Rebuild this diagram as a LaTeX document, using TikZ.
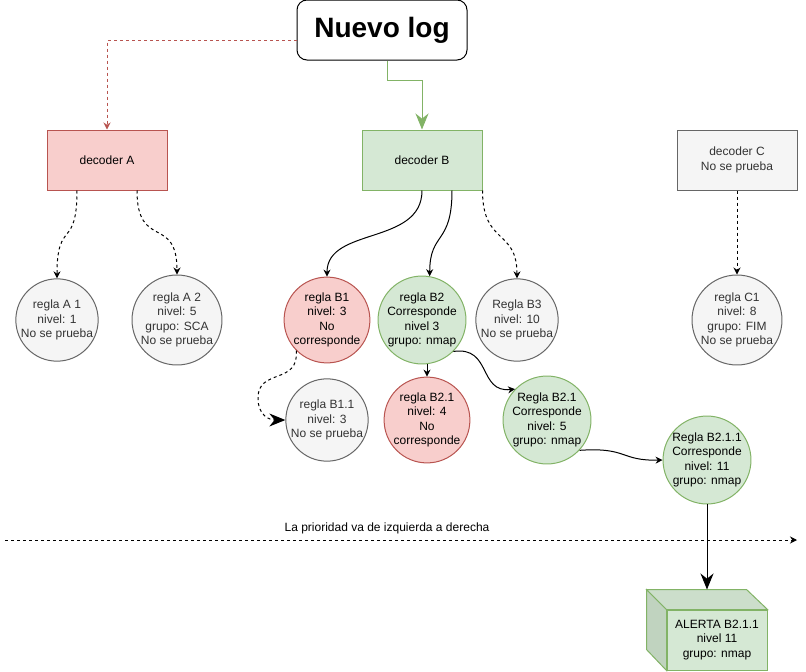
\documentclass[tikz,border=0pt]{standalone}
\usepackage{xcolor}
\usepackage{fontspec}
\setmainfont{Liberation Sans}
\usepackage{tikz}
\usetikzlibrary{positioning,arrows.meta,calc}

\definecolor{redfill}{HTML}{F8CECC}
\definecolor{redline}{HTML}{B85450}
\definecolor{greenfill}{HTML}{D5E8D4}
\definecolor{greenline}{HTML}{82B366}
\definecolor{grayfill}{HTML}{F5F5F5}
\definecolor{grayline}{HTML}{666666}
\definecolor{graytext}{HTML}{333333}
\definecolor{cubetop}{HTML}{CCDECB}
\definecolor{cubeside}{HTML}{C0D3BF}

\begin{document}
\begin{tikzpicture}[x=1pt,y=-1pt,line width=1pt,
  font=\fontsize{12}{14.4}\selectfont,
  decoder/.style={rectangle,minimum width=120pt,minimum height=60pt,inner sep=0pt,align=center},
  regla/.style={circle,minimum size=80pt,inner sep=0pt,align=center},
  rojo/.style={fill=redfill,draw=redline},
  verde/.style={fill=greenfill,draw=greenline},
  gris/.style={fill=grayfill,draw=grayline,text=graytext},
  punteado/.style={dash pattern=on 3pt off 3pt},
  tip/.style={-{Stealth[length=7pt,width=7pt]}},
  bigtip/.style={-{Stealth[length=16pt,width=13pt]}}]
\useasboundingbox (0,0) rectangle (806,672);

% Log y decoders
\node[draw,rounded corners=10pt,minimum width=170pt,minimum height=60pt,
  font=\fontsize{28}{34}\selectfont\bfseries] (log) at (382,30) {Nuevo log};
\node[decoder,rojo] (decA) at (107,160) {decoder A};
\node[decoder,verde] (decB) at (422,160) {decoder B};
\node[decoder,gris] (decC) at (737,160) {decoder C\\No se prueba};

\draw[tip,redline,punteado] ([yshift=-10pt]log.west) -| (decA.north);
\draw[bigtip,greenline] ([xshift=5pt]log.south) -- ++(0,20) -| (decB.north);

% Reglas
\node[regla,gris] (a1) at (57,320) {regla A 1\\nivel: 1\\No se prueba};
\node[regla,gris] (a2) at (177,320) {regla A 2\\nivel: 5\\grupo: SCA\\No se prueba};
\node[regla,rojo] (b1) at (327,320) {regla B1\\nivel: 3\\No\\corresponde};
\node[regla,verde] (b2) at (422,320) {regla B2\\Corresponde\\nivel 3\\grupo: nmap};
\node[regla,gris] (b3) at (517,320) {Regla B3\\nivel: 10\\No se prueba};
\node[regla,gris] (c1) at (737,320) {regla C1\\nivel: 8\\grupo: FIM\\No se prueba};
\node[regla,gris] (b11) at (327,420) {regla B1.1\\nivel: 3\\No se prueba};
\node[regla,rojo] (b21r) at (427,420) {regla B2.1\\nivel: 4\\No\\corresponde};
\node[regla,verde] (b21v) at (547,420) {Regla B2.1\\Corresponde\\nivel: 5\\grupo: nmap};
\node[regla,verde] (b211) at (707,460) {Regla B2.1.1\\Corresponde\\nivel: 11\\grupo: nmap};

\draw[tip,punteado] ([xshift=-30pt]decA.south) .. controls +(0,60) and +(0,-60) .. (a1.north);
\draw[tip,punteado] ([xshift=30pt]decA.south) .. controls +(0,60) and +(0,-60) .. (a2.north);
\draw[tip] (decB.south) .. controls +(0,55) and +(0,-50) .. (b1.north);
\draw[tip] ([xshift=30pt]decB.south) .. controls +(0,55) and +(0,-45) .. (b2.80);
\draw[tip,punteado] (decB.south east) .. controls +(0,55) and +(0,-50) .. (b3.north);
\draw[tip,punteado] (decC.south) -- (c1.north);

\draw[bigtip,punteado] (b1.225) .. controls (299,385) and (258,368) .. (258,398)
  .. controls (258,416) and (270,420) .. (b11.west);
\draw[tip] (b21r.north |- b2.south) -- (b21r.north);
\draw[tip] (b2.-45) .. controls (492,346) and (478,393) .. (b21v.136);
\draw[tip] (b21v.-43) .. controls (628,447) and (620,461) .. (b211.west);

% Prioridad
\coordinate (pini) at (5,540);
\coordinate (pfin) at (797,540);
\draw[tip,punteado] (pini) -- (pfin);
\node (prio) at (387,528) {La prioridad va de izquierda a derecha};

% Alerta
\node[rectangle,fill=greenfill,draw=greenline,minimum width=100pt,minimum height=60pt,
  inner sep=0pt,align=center] (alerta) at (717,640) {ALERTA B2.1.1\\nivel 11\\grupo: nmap};
\fill[cubeside,draw=greenline] (alerta.north west) -- ++(-20,-20) -- ++(0,60) -- (alerta.south west) -- cycle;
\fill[cubetop,draw=greenline] (alerta.north west) -- ++(-20,-20) -- ++(100,0) -- (alerta.north east) -- cycle;
\coordinate (alertatop) at ($(alerta.north)+(-10,-20)$);
\draw[bigtip] (b211.south) -- (alertatop);
\end{tikzpicture}
\end{document}
